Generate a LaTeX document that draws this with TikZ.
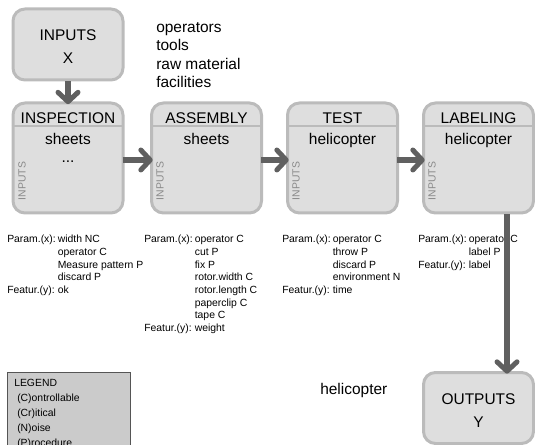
\documentclass[tikz,border=0pt]{standalone}
\usepackage{fontspec}
\setmainfont{Liberation Sans}
\usetikzlibrary{arrows.meta}
\definecolor{boxfill}{HTML}{DEDEDE}
\definecolor{boxline}{HTML}{BBBBBB}
\definecolor{arrcol}{HTML}{606060}
\definecolor{legfill}{HTML}{CBCBCB}
\definecolor{legline}{HTML}{555555}
\definecolor{vlab}{HTML}{8A8A8A}
\begin{document}
\begin{tikzpicture}[x=0.75pt,y=-0.75pt,
  box/.style={draw=boxline, fill=boxfill, line width=2.25pt, rounded corners=9pt, minimum width=82.5pt, inner sep=0pt},
  procbox/.style={box, minimum height=82.5pt},
  iobox/.style={box, minimum height=53.25pt},
  big/.style={font=\fontsize{11.6}{13}\selectfont, inner sep=0pt, anchor=base},
  small/.style={font=\fontsize{7.8}{9.5}\selectfont, inner sep=0pt, anchor=base west},
  vert/.style={font=\fontsize{7.8}{9}\selectfont, text=vlab, rotate=90, inner sep=0pt},
  sep/.style={draw=boxline, line width=1.5pt},
  flow/.style={draw=arrcol, line width=5pt, shorten >=-2pt, -{Straight Barb[length=7pt,width=15pt,line width=3.75pt,round]}},
]
\useasboundingbox (0,0) rectangle (535,445);
\clip (0,0) rectangle (535,445);

% boxes
\node[iobox] (inputs) at (68,44.5) {};
\node[procbox] (insp) at (68,158) {};
\node[procbox] (asm) at (206.5,158) {};
\node[procbox] (test) at (342.5,158) {};
\node[procbox] (lab) at (478.5,158) {};
\node[iobox] (out) at (478.5,408) {};

% header separators
\foreach \b in {insp,asm,test,lab}
  \draw[sep] (\b.north west) ++(0,25) -- ++(110,0);

% texts in boxes
\node[big] (tin1) at (68,40.7) {INPUTS};
\node[big] (tin2) at (68,64) {X};
\node[big] (tout1) at (478.5,404) {OUTPUTS};
\node[big] (tout2) at (478.5,427.3) {Y};

\node[big] (h1) at (68,124) {INSPECTION};
\node[big] (s1) at (68,144.3) {sheets};
\node[big] (d1) at (68,162.7) {...};
\node[big] (h2) at (206.5,124) {ASSEMBLY};
\node[big] (s2) at (206.5,144.3) {sheets};
\node[big] (h3) at (342.5,124) {TEST};
\node[big] (s3) at (342.5,144.3) {helicopter};
\node[big] (h4) at (478.5,124) {LABELING};
\node[big] (s4) at (478.5,144.3) {helicopter};

\node[vert] (v1) at (22,181) {INPUTS};
\node[vert] (v2) at (160,181) {INPUTS};
\node[vert] (v3) at (296,181) {INPUTS};
\node[vert] (v4) at (432,181) {INPUTS};

% resource list
\node[big, anchor=base west, font=\fontsize{11.6}{13.9}\selectfont] (res) at (156,32.3)
  {\begin{tabular}[t]{@{}l@{}}operators\\ tools\\ raw material\\ facilities\end{tabular}};

\node[big, anchor=base west] (heli) at (320,394.3) {helicopter};

% parameter blocks
\node[small] (p1) at (7,243) {\begin{tabular}[t]{@{}l@{\hspace{1.5pt}}l@{}}
Param.(x): & width NC\\ & operator C\\ & Measure pattern P\\ & discard P\\ Featur.(y): & ok\end{tabular}};
\node[small] (p2) at (144,243) {\begin{tabular}[t]{@{}l@{\hspace{1.5pt}}l@{}}
Param.(x): & operator C\\ & cut P\\ & fix P\\ & rotor.width C\\ & rotor.length C\\ & paperclip C\\ & tape C\\ Featur.(y): & weight\end{tabular}};
\node[small] (p3) at (282,243) {\begin{tabular}[t]{@{}l@{\hspace{1.5pt}}l@{}}
Param.(x): & operator C\\ & throw P\\ & discard P\\ & environment N\\ Featur.(y): & time\end{tabular}};
\node[small] (p4) at (418,243) {\begin{tabular}[t]{@{}l@{\hspace{1.5pt}}l@{}}
Param.(x): & operator C\\ & label P\\ Featur.(y): & label\end{tabular}};

% legend
\node[draw=legline, fill=legfill, line width=0.75pt, minimum width=92.25pt, minimum height=66pt, anchor=north west, inner sep=0pt] (legend) at (7,372) {};
\node[small, font=\fontsize{7.8}{11.25}\selectfont] (legtext) at (14,386.7) {\begin{tabular}[t]{@{}l@{}}
LEGEND\\ \hspace*{2.25pt}(C)ontrollable\\ \hspace*{2.25pt}(Cr)itical\\ \hspace*{2.25pt}(N)oise\\ \hspace*{2.25pt}(P)rocedure\end{tabular}};

% flow arrows
\draw[flow] (inputs.south) -- (insp.north);
\draw[flow] ([shift={(-2,2)}]insp.east) -- ([shift={(0,2)}]asm.west);
\draw[flow] ([shift={(-2,2)}]asm.east) -- ([shift={(0,2)}]test.west);
\draw[flow] ([shift={(-2,2)}]test.east) -- ([shift={(0,2)}]lab.west);
\draw[flow] ([shift={(28.5,0)}]lab.south) -- ([shift={(28.5,0)}]out.north);
\end{tikzpicture}
\end{document}
